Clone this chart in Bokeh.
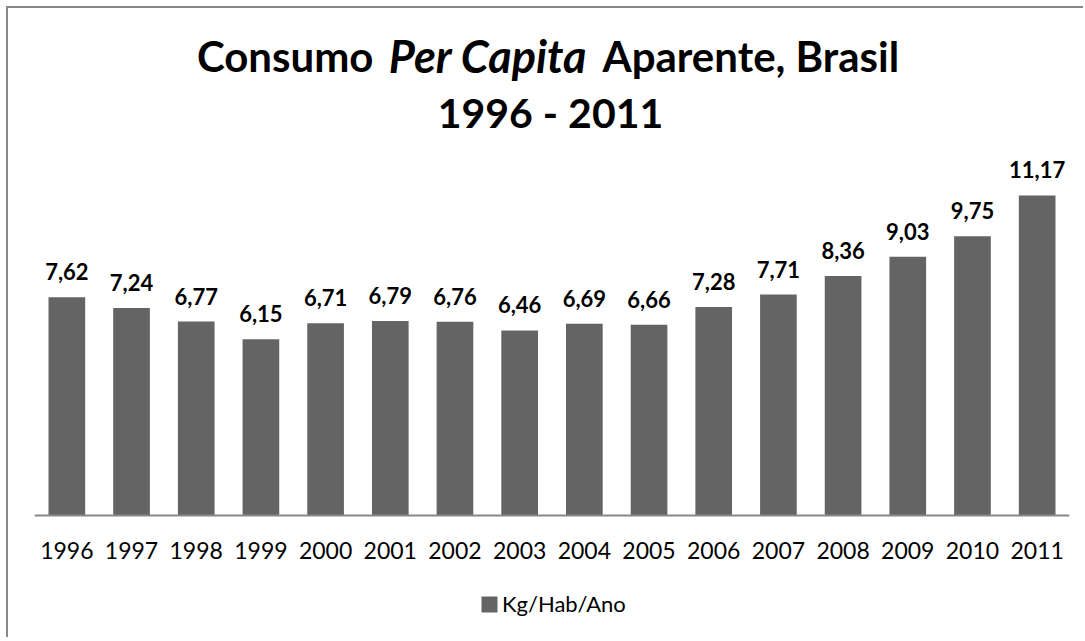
from bokeh.plotting import figure
from bokeh.models import (FactorRange, Range1d, ColumnDataSource, LabelSet, Label,
                          Legend, LegendItem)
from bokeh.embed import file_html
from bokeh.resources import INLINE
from bokeh.core.properties import value

# ---- data ----
years = ["1996", "1997", "1998", "1999", "2000", "2001", "2002", "2003",
         "2004", "2005", "2006", "2007", "2008", "2009", "2010", "2011"]
consumo = [7.62, 7.24, 6.77, 6.15, 6.71, 6.79, 6.76, 6.46,
           6.69, 6.66, 7.28, 7.71, 8.36, 9.03, 9.75, 11.17]
value_labels = [f"{v:.2f}".replace(".", ",") for v in consumo]
series_name = "Kg/Hab/Ano"
title_a = "Consumo"
title_b = "Per Capita"
title_c = "Aparente, Brasil"
title_line2 = "1996 - 2011"

# ---- layout constants (canvas origin sits at page (8, 8)) ----
W, H = 1077, 631
FRAME_LEFT = 26
FRAME_W = 1035
AXIS_Y = 507            # canvas y of the category axis
PX_PER_UNIT = 28.65
YMAX = AXIS_Y / PX_PER_UNIT
YMIN = -(H - AXIS_Y) / PX_PER_UNIT
CAT_W = FRAME_W / len(years)
FONT = "Lato"
BAR_COLOR = "#646464"

def xd(px_page):
    return (px_page - 8 - FRAME_LEFT) / CAT_W

def yd(py_page):
    return (AXIS_Y + 8 - py_page) / PX_PER_UNIT

src = ColumnDataSource(dict(years=years, consumo=consumo, lab=value_labels))

p = figure(width=W, height=H, x_range=FactorRange(factors=years, range_padding=0),
           y_range=Range1d(YMIN, YMAX), output_backend="svg", toolbar_location=None,
           y_axis_location=None, title=None,
           min_border_left=FRAME_LEFT, min_border_right=W - FRAME_LEFT - FRAME_W,
           min_border_top=0, min_border_bottom=0)
p.outline_line_color = None
p.xgrid.grid_line_color = None
p.ygrid.grid_line_color = None
p.background_fill_color = "white"
p.border_fill_color = "white"
p.styles = {"margin-left": "6px", "margin-top": "6px",
            "border-left": "2px solid #888888", "border-top": "2px solid #888888"}

bars = p.vbar(x="years", top="consumo", bottom=0, width=0.567, source=src,
              fill_color=BAR_COLOR, line_color=None)

labels = LabelSet(x="years", y="consumo", text="lab", source=src, y_offset=17,
                  text_align="center", text_baseline="alphabetic",
                  text_font=value(FONT), text_font_style="bold",
                  text_font_size="22px", text_color="black")
p.add_layout(labels)

ax = p.xaxis[0]
ax.fixed_location = 0
ax.axis_line_color = "#888888"
ax.axis_line_width = 2
ax.major_tick_line_color = None
ax.minor_tick_line_color = None
ax.major_label_text_font = FONT
ax.major_label_text_font_size = "23px"
ax.major_label_text_color = "black"
ax.major_label_standoff = 20

# title pieces
tsize = "42px"
line1_y = yd(55)
line2_y = yd(111.5)
p.add_layout(Label(x=xd(373), y=line1_y, text=title_a, text_align="right",
                   text_baseline="alphabetic", text_font=FONT, text_font_style="bold",
                   text_font_size=tsize, text_color="black"))
p.add_layout(Label(x=xd(487.5), y=line1_y, text=title_b, text_align="center",
                   text_baseline="alphabetic", text_font=FONT, text_font_style="bold italic",
                   text_font_size="45px", text_color="black"))
p.add_layout(Label(x=xd(602), y=line1_y, text=title_c, text_align="left",
                   text_baseline="alphabetic", text_font=FONT, text_font_style="bold",
                   text_font_size=tsize, text_color="black"))
p.add_layout(Label(x=xd(550), y=line2_y, text=title_line2, text_align="center",
                   text_baseline="alphabetic", text_font=FONT, text_font_style="bold",
                   text_font_size="41px", text_color="black"))

legend = Legend(items=[LegendItem(label=series_name, renderers=[bars])],
                orientation="horizontal", location=(445, 22),
                glyph_width=20, glyph_height=20, label_standoff=3,
                label_text_font=FONT, label_text_font_size="22px",
                label_text_color="black", border_line_color=None,
                background_fill_alpha=0, padding=0, margin=0)
p.add_layout(legend, "center")

open("out.html", "w").write(file_html(p, INLINE))
